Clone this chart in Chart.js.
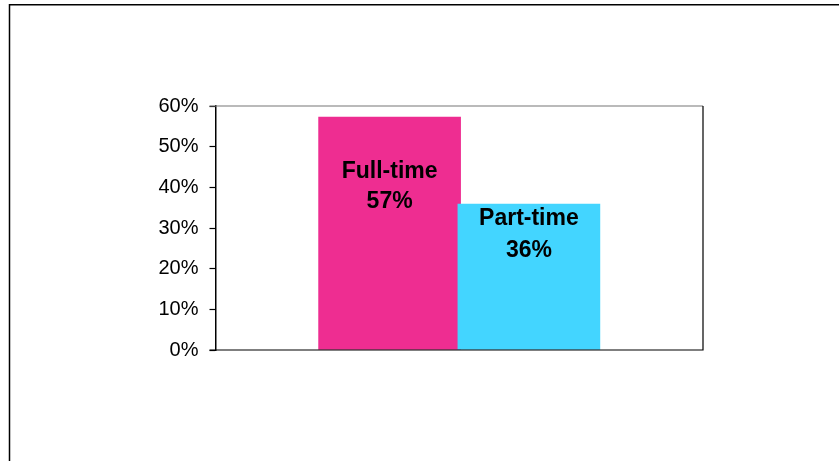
<!DOCTYPE html>
<html>
<head>
<meta charset="utf-8">
<script src="https://cdn.jsdelivr.net/npm/chart.js@4.4.1/dist/chart.umd.min.js"></script>
<style>
  html, body { margin: 0; padding: 0; background: #fff; }
  #wrap { position: relative; width: 839px; height: 461px; }
</style>
</head>
<body>
<div id="wrap"><canvas id="jobChart" width="839" height="461"></canvas></div>
<script>
// values
const categories = ['Full-time', 'Part-time'];
const shares = [57.3, 35.9];
const yTicks = [0, 10, 20, 30, 40, 50, 60];

const barColors = ['#EE2D91', '#43D5FF'];
// baseline of each label line, in px below the top of its bar
const labelLines = [[61, 91], [21, 53]];

const FONT = '"Liberation Sans", Arial, sans-serif';

// outer frame and the plot box (grey top, black right/bottom)
const framePlugin = {
  id: 'frame',
  beforeDraw(chart) {
    const ctx = chart.ctx;
    ctx.save();
    ctx.strokeStyle = '#000';
    ctx.lineWidth = 1.5;
    ctx.beginPath();
    ctx.moveTo(9.5, 470);
    ctx.lineTo(9.5, 4.8);
    ctx.lineTo(850, 4.8);
    ctx.stroke();
    ctx.restore();
  },
  afterDatasetsDraw(chart) {
    const { ctx, chartArea: a } = chart;
    ctx.save();
    ctx.lineWidth = 1.2;
    ctx.strokeStyle = '#777';
    ctx.beginPath();
    ctx.moveTo(a.left - 6, a.top);
    ctx.lineTo(a.right, a.top);
    ctx.stroke();
    ctx.strokeStyle = '#000';
    ctx.beginPath();
    ctx.moveTo(a.right, a.top);
    ctx.lineTo(a.right, a.bottom);
    ctx.lineTo(a.left - 6, a.bottom);
    ctx.stroke();
    ctx.restore();
  }
};

const labelPlugin = {
  id: 'barLabels',
  afterDatasetsDraw(chart) {
    const ctx = chart.ctx;
    const bars = chart.getDatasetMeta(0).data;
    ctx.save();
    ctx.fillStyle = '#000';
    ctx.font = 'bold 23px ' + FONT;
    ctx.textAlign = 'center';
    ctx.textBaseline = 'alphabetic';
    bars.forEach((bar, i) => {
      ctx.fillText(categories[i], bar.x, bar.y + labelLines[i][0]);
      ctx.fillText(Math.round(shares[i]) + '%', bar.x, bar.y + labelLines[i][1]);
    });
    ctx.restore();
  }
};

new Chart(document.getElementById('jobChart'), {
  type: 'bar',
  data: {
    datasets: [{
      data: shares.map((v, i) => ({ x: i, y: v })),
      backgroundColor: barColors,
      borderWidth: 0,
      barThickness: 142
    }]
  },
  options: {
    responsive: false,
    animation: false,
    events: [],
    layout: { padding: { top: 106, right: 136, bottom: 111, left: 0 } },
    plugins: { legend: { display: false }, tooltip: { enabled: false } },
    scales: {
      x: {
        type: 'linear',
        min: -1.25,
        max: 2.25,
        offset: false,
        display: false
      },
      y: {
        min: 0,
        max: 60,
        afterBuildTicks: s => { s.ticks = yTicks.map(v => ({ value: v })); },
        afterFit: s => { s.width = 215.5; },
        ticks: {
          color: '#000',
          padding: 11,
          font: { family: FONT, size: 20 },
          callback: v => v + '%'
        },
        grid: {
          drawOnChartArea: false,
          drawTicks: true,
          tickLength: 6,
          tickWidth: 1.2,
          color: '#000'
        },
        border: { color: '#000', width: 1.5 }
      }
    }
  },
  plugins: [framePlugin, labelPlugin]
});
</script>
</body>
</html>
